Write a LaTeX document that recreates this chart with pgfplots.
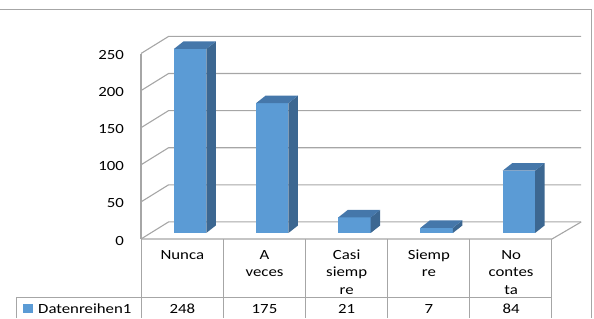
\documentclass[border=0pt]{standalone}
\usepackage{pgfplots}
\pgfplotsset{compat=1.18}
\usepackage{pgfplotstable}
\usepackage{fontspec}
\setmainfont{Carlito}
\newfontfamily\cf[FakeStretch=1.2]{Carlito}
\newcommand\lab{\cf\fontsize{14bp}{17bp}\selectfont}
\definecolor{barfront}{HTML}{5B9BD5}
\definecolor{barside}{HTML}{3C6791}
\definecolor{bartop}{HTML}{4577AA}
\definecolor{gridc}{HTML}{A6A6A6}

\pgfplotstableread{
x v
0 248
1 175
2 21
3 7
4 84
}\datatab

\begin{document}
\begin{tikzpicture}
\begin{axis}[
  at={(141bp,79bp)}, anchor=south west,
  scale only axis, width=411bp, height=185.5bp,
  xmin=-0.5, xmax=4.5, ymin=0, ymax=250,
  clip=false,
  axis line style={draw=none},
  xtick=\empty,
  ytick={0,50,100,150,200,250},
  major tick length=0pt,
  yticklabel style={font=\lab, inner sep=0pt, anchor=east, xshift=-17bp, yshift=-1.5bp, text=black},
  /pgf/number format/assume math mode=true,
]
\pgfplotsinvokeforeach{0,50,100,150,200,250}{
  \draw[gridc, line width=1.1bp] (axis cs:-0.5,#1) -- (axis cs:-0.165,#1+23) -- (axis cs:4.855,#1+23);
}
\draw[gridc, line width=1.1bp] (axis cs:-0.5,0) -- (axis cs:-0.5,250);
\draw[gridc, line width=1.1bp] (axis cs:-0.5,0) -- (axis cs:4.5,0) -- (axis cs:4.855,23);
\pgfplotsinvokeforeach{0,1,2,3,4}{
  \pgfplotstablegetelem{#1}{v}\of\datatab
  \pgfmathsetmacro\vb{\pgfplotsretval+8.1}
  \pgfmathsetmacro\vt{\pgfplotsretval+18.2}
  \pgfmathsetmacro\xl{#1-0.1}
  \pgfmathsetmacro\xr{#1+0.294}
  \pgfmathsetmacro\xlb{#1+0.0156}
  \pgfmathsetmacro\xrb{#1+0.4096}
  \edef\cmd{%
    \noexpand\addplot[fill=barfront, draw=none, forget plot] coordinates {(\xl,8.1) (\xr,8.1) (\xr,\vb) (\xl,\vb)};
    \noexpand\addplot[fill=barside, draw=none, forget plot] coordinates {(\xr,8.1) (\xrb,18.2) (\xrb,\vt) (\xr,\vb)};
    \noexpand\addplot[fill=bartop, draw=none, forget plot] coordinates {(\xl,\vb) (\xr,\vb) (\xrb,\vt) (\xlb,\vt)};
  }%
  \cmd
}
\end{axis}
\begin{scope}[shift={(0bp,318bp)}, x=1bp, y=-1bp]
  \draw[gridc, line width=0.9bp] (0,9.3) -- (591.7,9.3) -- (591.7,318);
  \foreach \x in {141.5,223.2,305.4,387.6,469.8,551.8} \draw[gridc, line width=0.9bp] (\x,239) -- (\x,318);
  \draw[gridc, line width=0.9bp] (16,297) -- (551.8,297);
  \draw[gridc, line width=0.9bp] (16,297) -- (16,318);
  \fill[barfront] (23,304) rectangle (33,313);
  \node[anchor=base west, inner sep=0pt, font=\lab] at (38,313) {Datenreihen1};
  \foreach \x/\a/\b/\c/\v in {182.3/Nunca/{}/{}/248, 264.5/A/veces/{}/175, 346.7/Casi/siemp/re/21, 428.9/Siemp/re/{}/7, 511.1/No/contes/ta/84}{
    \node[anchor=base, inner sep=0pt, font=\lab] at (\x,259) {\a};
    \node[anchor=base, inner sep=0pt, font=\lab] at (\x,276.5) {\b};
    \node[anchor=base, inner sep=0pt, font=\lab] at (\x,294) {\c};
    \node[anchor=base, inner sep=0pt, font=\lab] at (\x,313) {\v};
  }
  \pgfresetboundingbox
  \path (0,0) rectangle (594,318);
\end{scope}
\end{tikzpicture}
\end{document}
